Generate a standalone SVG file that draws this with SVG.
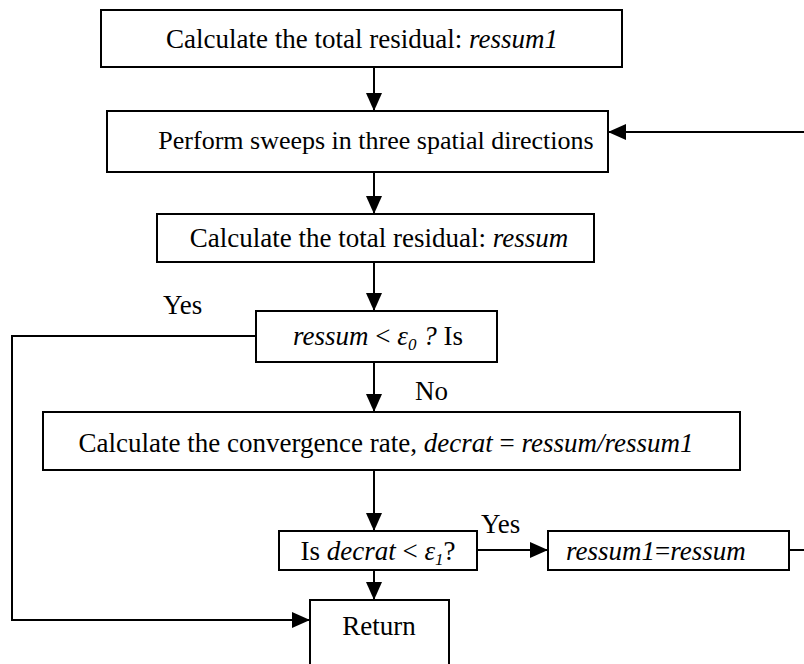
<svg xmlns="http://www.w3.org/2000/svg" width="804" height="664" viewBox="0 0 804 664" font-family="'Liberation Serif', 'Times New Roman', serif">
<style>
.box{fill:#fff;stroke:#000;stroke-width:2}
.t{font-family:'Liberation Serif','Times New Roman',serif;font-size:27px;fill:#000}
.i{font-style:italic}
.s{font-size:17px}
.c{fill:none;stroke:#000;stroke-width:2}
</style>
<defs>
<marker id="ah" markerWidth="18" markerHeight="16" refX="17" refY="8" orient="auto" markerUnits="userSpaceOnUse">
<path d="M0,0 L18,8 L0,16 Z" fill="#000"/>
</marker>
</defs>
<rect width="804" height="664" fill="#fff"/>
<g id="connectors">
<line class="c" x1="374" y1="67" x2="374" y2="110" marker-end="url(#ah)"/>
<line class="c" x1="804" y1="132" x2="609" y2="132" marker-end="url(#ah)"/>
<line class="c" x1="374" y1="172" x2="374" y2="213" marker-end="url(#ah)"/>
<line class="c" x1="374" y1="262" x2="374" y2="310" marker-end="url(#ah)"/>
<polyline class="c" points="256,336 12,336 12,620 309,620" marker-end="url(#ah)"/>
<line class="c" x1="374" y1="362" x2="374" y2="411" marker-end="url(#ah)"/>
<line class="c" x1="374" y1="470" x2="374" y2="530" marker-end="url(#ah)"/>
<line class="c" x1="477" y1="550" x2="547" y2="550" marker-end="url(#ah)"/>
<line class="c" x1="789" y1="550" x2="804" y2="550"/>
<line class="c" x1="374" y1="570" x2="374" y2="599" marker-end="url(#ah)"/>
<text class="t" x="163" y="314">Yes</text>
<text class="t" x="415" y="400">No</text>
<text class="t" x="481" y="533">Yes</text>
<text class="t" x="416" y="619">No</text>
</g>
<g id="n1">
<rect class="box" x="101" y="10" width="521" height="57"/>
<text class="t" x="362" y="48" text-anchor="middle">Calculate the total residual: <tspan class="i">ressum1</tspan></text>
</g>
<g id="n2">
<rect class="box" x="107" y="111" width="501" height="61"/>
<text class="t" x="376" y="149" text-anchor="middle" style="font-size:26px">Perform sweeps in three spatial directions</text>
</g>
<g id="n3">
<rect class="box" x="157" y="214" width="437" height="48"/>
<text class="t" x="379" y="247" text-anchor="middle">Calculate the total residual: <tspan class="i">ressum</tspan></text>
</g>
<g id="n4">
<rect class="box" x="256" y="311" width="241" height="51"/>
<text class="t" x="378" y="345" text-anchor="middle"><tspan class="i">ressum</tspan> &lt; <tspan class="i">ε<tspan class="s" dy="5">0</tspan></tspan><tspan dy="-5"> </tspan><tspan class="i">?</tspan> Is</text>
</g>
<g id="n5">
<rect class="box" x="43" y="412" width="697" height="58"/>
<text class="t" x="386" y="452" text-anchor="middle">Calculate the convergence rate, <tspan class="i">decrat</tspan> = <tspan class="i">ressum/ressum1</tspan></text>
</g>
<g id="n6">
<rect class="box" x="279" y="531" width="198" height="39"/>
<text class="t" x="378" y="560" text-anchor="middle">Is <tspan class="i">decrat</tspan> &lt; <tspan class="i">ε<tspan class="s" dy="5">1</tspan></tspan><tspan dy="-5">?</tspan></text>
</g>
<g id="n7">
<rect class="box" x="548" y="531" width="241" height="39"/>
<text class="t" x="566" y="560"><tspan class="i">ressum1</tspan>=<tspan class="i">ressum</tspan></text>
</g>
<g id="n8">
<rect class="box" x="310" y="600" width="139" height="70"/>
<text class="t" x="379" y="635" text-anchor="middle">Return</text>
</g>
</svg>
